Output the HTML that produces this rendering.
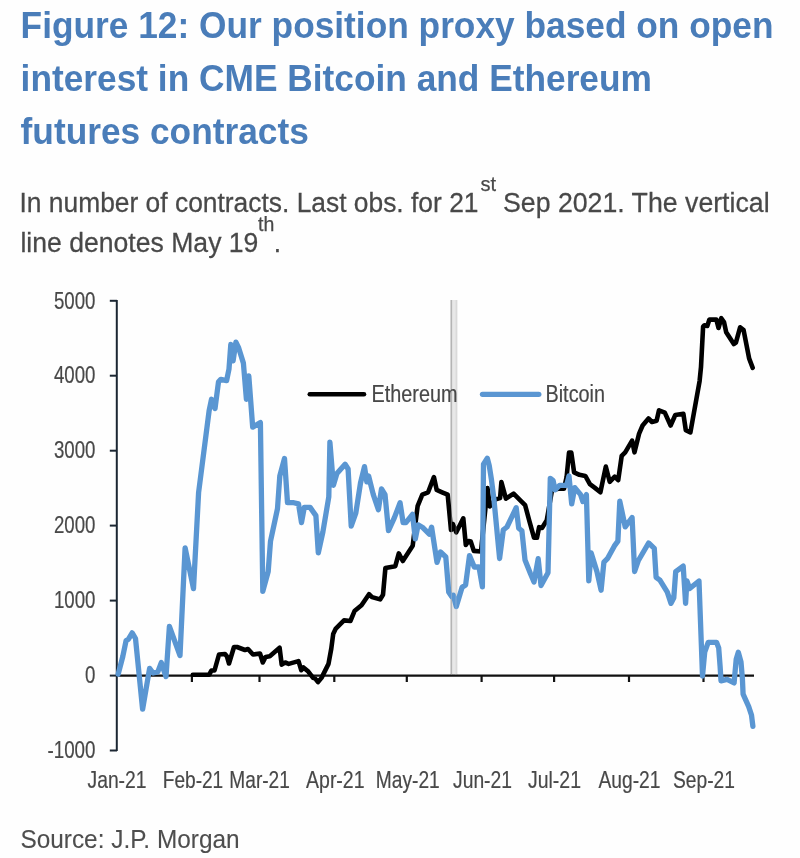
<!DOCTYPE html>
<html><head><meta charset="utf-8"><style>
html,body{margin:0;padding:0;background:#fff;}
body{width:800px;height:858px;overflow:hidden;}
svg{display:block;will-change:transform;}
text{font-family:"Liberation Sans",sans-serif;}
</style></head><body>
<svg width="800" height="858" viewBox="0 0 800 858">
<rect width="800" height="858" fill="#fefefe"/>
<g fill="#4a7db9" font-weight="bold" font-size="35.3">
<text x="20.6" y="38.2" transform="matrix(1,0,0,1.04,0,-1.528)">Figure 12: Our position proxy based on open</text>
<text x="20.6" y="91" transform="matrix(1,0,0,1.04,0,-3.640)">interest in CME Bitcoin and Ethereum</text>
<text x="20.6" y="143.6" transform="matrix(1,0,0,1.04,0,-5.744)">futures contracts</text>
</g>
<g fill="#484848" font-size="26.3" stroke="#484848" stroke-width="0.25">
<text x="19.5" y="211.6" font-size="26.4" transform="matrix(1,0,0,1.03,0,-6.348)">In number of contracts. Last obs. for 21</text>
<text x="480.5" y="191.4" font-size="20">st</text>
<text x="503" y="211.6" font-size="26.7" transform="matrix(1,0,0,1.03,0,-6.348)">Sep 2021. The vertical</text>
<text x="20.4" y="252" font-size="26.6" transform="matrix(1,0,0,1.02,0,-5.040)">line denotes May 19</text>
<text x="258" y="231" font-size="19.5">th</text>
<text x="273.8" y="252" transform="matrix(1,0,0,1.02,0,-5.040)">.</text>
</g>
<!-- vertical bar -->
<rect x="450.6" y="300" width="6.8" height="375.6" fill="#e8e8e8"/>
<rect x="450.6" y="300" width="1.5" height="375.6" fill="#a9a9a9"/>
<rect x="455.6" y="300" width="1.6" height="375.6" fill="#d9d9d9"/>
<!-- axes -->
<g stroke="#1c2733" stroke-width="2" fill="none">
<line x1="116.8" y1="300" x2="116.8" y2="751"/>
<line x1="109.8" y1="300.8" x2="117" y2="300.8"/>
<line x1="109.8" y1="375.7" x2="117" y2="375.7"/>
<line x1="109.8" y1="450.7" x2="117" y2="450.7"/>
<line x1="109.8" y1="525.6" x2="117" y2="525.6"/>
<line x1="109.8" y1="600.6" x2="117" y2="600.6"/>
<line x1="109.8" y1="675.6" x2="117" y2="675.6"/>
<line x1="109.8" y1="750.5" x2="117" y2="750.5"/>
</g>
<g stroke="#111" stroke-width="2.2" fill="none">
<line x1="116" y1="675.6" x2="754" y2="675.6"/>
<line x1="191.9" y1="675" x2="191.9" y2="682"/>
<line x1="259.5" y1="675" x2="259.5" y2="682"/>
<line x1="334.3" y1="675" x2="334.3" y2="682"/>
<line x1="406.8" y1="675" x2="406.8" y2="682"/>
<line x1="481.6" y1="675" x2="481.6" y2="682"/>
<line x1="554.1" y1="675" x2="554.1" y2="682"/>
<line x1="629" y1="675" x2="629" y2="682"/>
<line x1="703.5" y1="675" x2="703.5" y2="682"/>
</g>
<g fill="#484848" font-size="23.5" text-anchor="end" transform="translate(0,1)" stroke="#484848" stroke-width="0.2">
<text x="95.5" y="307.5" textLength="41.5" lengthAdjust="spacingAndGlyphs">5000</text>
<text x="95.5" y="382.4" textLength="41.5" lengthAdjust="spacingAndGlyphs">4000</text>
<text x="95.5" y="457.4" textLength="41.5" lengthAdjust="spacingAndGlyphs">3000</text>
<text x="95.5" y="532.3" textLength="41.5" lengthAdjust="spacingAndGlyphs">2000</text>
<text x="95.5" y="607.3" textLength="41.5" lengthAdjust="spacingAndGlyphs">1000</text>
<text x="95.5" y="682.2" textLength="10.4" lengthAdjust="spacingAndGlyphs">0</text>
<text x="95.5" y="757.2" textLength="48" lengthAdjust="spacingAndGlyphs">-1000</text>
</g>
<g fill="#484848" font-size="23.6" text-anchor="middle" stroke="#484848" stroke-width="0.2">
<text x="117" y="787.7" textLength="59" lengthAdjust="spacingAndGlyphs">Jan-21</text>
<text x="193" y="787.7" textLength="60.5" lengthAdjust="spacingAndGlyphs">Feb-21</text>
<text x="259.6" y="787.7" textLength="60.5" lengthAdjust="spacingAndGlyphs">Mar-21</text>
<text x="335.3" y="787.7" textLength="58.5" lengthAdjust="spacingAndGlyphs">Apr-21</text>
<text x="407.8" y="787.7" textLength="64" lengthAdjust="spacingAndGlyphs">May-21</text>
<text x="482.5" y="787.7" textLength="59" lengthAdjust="spacingAndGlyphs">Jun-21</text>
<text x="554.5" y="787.7" textLength="53" lengthAdjust="spacingAndGlyphs">Jul-21</text>
<text x="629.5" y="787.7" textLength="62" lengthAdjust="spacingAndGlyphs">Aug-21</text>
<text x="704" y="787.7" textLength="62" lengthAdjust="spacingAndGlyphs">Sep-21</text>
</g>
<polyline points="192.8,674.8 209.0,674.8 211.5,670.5 214.5,670.5 219.0,654.5 225.0,654.0 227.0,656.5 229.0,663.5 234.0,647.0 237.0,647.0 245.0,650.0 248.0,649.0 253.0,654.5 260.0,653.5 262.8,662.5 265.6,656.9 269.8,656.2 279.6,647.8 281.7,664.6 285.2,662.5 288.7,663.9 298.5,661.1 301.3,670.2 303.4,667.4 308.3,671.6 313.1,677.9 315.2,678.6 318.0,682.1 321.5,677.9 328.5,663.9 331.3,648.5 333.2,634.0 335.8,628.6 344.0,620.4 350.4,621.0 354.5,611.1 361.5,605.3 369.0,594.2 372.0,597.1 380.1,599.4 383.0,594.8 385.4,568.0 395.3,566.2 398.8,553.4 402.8,561.0 412.7,545.8 414.1,534.2 417.6,506.2 422.3,494.6 428.1,492.3 433.9,477.1 436.7,489.9 442.1,492.3 447.7,494.7 451.0,530.0 452.8,524.0 456.3,532.3 463.3,518.3 465.8,545.0 468.5,541.0 470.8,541.6 473.8,550.9 481.0,551.5 487.5,488.0 489.9,506.4 495.6,499.4 500.1,498.1 501.4,482.0 505.9,498.7 513.6,493.6 521.3,501.3 525.1,505.1 529.6,521.8 534.0,537.7 537.0,537.7 539.1,527.2 542.0,528.0 546.8,520.2 552.0,490.0 558.5,488.8 564.0,488.8 566.6,477.1 569.0,452.6 571.3,452.6 574.1,472.4 579.4,474.8 585.3,475.9 589.9,484.1 594.6,487.6 600.4,492.3 605.8,466.6 609.7,481.8 614.7,476.7 618.2,480.2 621.7,455.8 625.2,452.3 632.1,440.6 634.5,452.3 639.1,433.6 642.6,425.5 648.5,418.5 652.0,422.0 656.6,420.8 659.0,410.3 664.8,412.6 670.6,425.5 675.3,415.0 683.4,413.8 685.8,430.1 690.4,432.4 699.6,381.1 701.0,367.1 703.1,326.6 704.5,325.2 707.3,325.9 709.4,319.6 716.4,319.6 718.5,328.0 721.3,318.2 724.1,322.4 726.2,332.2 733.8,344.1 735.9,342.7 740.1,327.3 743.6,330.1 749.2,358.7 752.7,367.8" fill="none" stroke="#000" stroke-width="4.6" stroke-linejoin="round" stroke-linecap="round"/>
<polyline points="118.2,674.2 122.8,656.5 126.1,640.5 128.3,639.4 132.2,632.9 135.5,638.5 142.6,709.2 149.6,668.4 153.1,673.0 157.8,671.9 161.3,662.6 163.6,669.6 166.0,676.6 169.4,626.4 180.0,655.6 185.1,547.8 193.5,588.6 198.6,492.5 209.1,410.9 211.5,399.3 215.0,408.6 218.5,381.8 220.8,379.4 226.6,380.6 229.0,369.0 230.8,344.5 233.1,360.8 235.9,342.1 238.7,348.0 243.4,363.1 246.4,399.3 248.8,375.9 252.7,427.2 260.4,422.6 262.8,591.3 268.2,571.5 270.5,541.2 277.5,508.6 279.8,476.0 284.5,458.5 287.5,502.7 293.8,502.7 298.5,503.9 301.5,522.6 304.3,507.4 310.1,507.4 315.9,515.6 318.3,552.9 322.9,531.9 328.8,496.9 329.9,442.1 333.4,485.3 336.9,473.6 345.1,464.3 348.1,469.0 351.2,526.0 355.8,513.2 360.5,483.0 364.5,466.6 366.8,481.8 368.6,476.0 373.3,494.6 378.4,509.7 381.5,488.8 385.0,494.6 388.5,530.7 394.3,517.9 400.1,502.8 403.1,522.6 405.9,522.6 412.5,514.4 415.3,538.9 418.1,524.9 422.3,527.2 429.3,534.2 431.6,527.2 437.0,562.4 440.5,551.9 445.8,557.0 448.7,592.0 451.7,596.6 453.4,595.4 456.3,606.5 462.1,587.3 465.6,585.0 469.5,555.6 474.3,567.0 479.0,567.0 482.4,586.9 483.5,464.1 487.3,458.3 489.2,465.4 491.5,480.0 494.0,500.0 499.6,558.5 503.3,529.8 507.0,527.0 516.2,507.7 518.7,528.2 521.9,530.8 525.0,560.0 530.5,573.8 534.0,582.0 538.2,558.7 541.0,585.5 548.0,572.7 550.3,478.3 553.1,480.6 555.0,489.9 559.6,485.3 566.6,485.3 569.0,476.0 571.7,503.9 574.8,487.6 580.6,494.6 582.9,501.6 586.4,494.6 588.8,580.8 591.1,552.9 596.9,571.5 601.1,590.2 603.9,562.2 607.4,558.7 614.4,545.9 617.9,541.2 619.8,501.2 625.2,526.9 632.1,517.5 634.6,571.5 638.4,560.5 648.6,543.0 654.3,548.4 656.1,577.3 659.9,580.1 667.3,592.2 671.0,603.4 673.8,597.8 675.7,571.7 683.2,566.1 685.6,603.4 686.9,581.0 689.7,588.5 699.0,581.0 702.5,676.0 704.7,652.2 708.2,642.4 716.6,642.4 718.7,648.0 720.1,666.2 721.0,680.8 727.1,679.4 734.1,682.9 736.2,659.2 738.3,652.2 741.0,662.0 742.4,678.7 743.1,694.1 748.7,706.7 751.5,715.1 752.9,726.3" fill="none" stroke="#5a96d2" stroke-width="5.3" stroke-linejoin="round" stroke-linecap="round"/>
<rect x="451" y="300" width="1" height="375" fill="#c8c8c8" opacity="0.35"/>
<rect x="455.5" y="300" width="1" height="375" fill="#e0e0e0" opacity="0.3"/>
<line x1="309.8" y1="394.3" x2="364" y2="394.3" stroke="#000" stroke-width="4.6" stroke-linecap="round"/>
<line x1="482.5" y1="394.3" x2="538.8" y2="394.3" stroke="#5a96d2" stroke-width="5.3" stroke-linecap="round"/>
<g fill="#484848" font-size="22.7" stroke="#484848" stroke-width="0.2">
<text x="371.5" y="402.2" font-size="23" textLength="86" lengthAdjust="spacingAndGlyphs">Ethereum</text>
<text x="545.5" y="402.2" font-size="23" textLength="59.5" lengthAdjust="spacingAndGlyphs">Bitcoin</text>
</g>
<text x="20.4" y="848.3" fill="#4e4e4e" font-size="24.4" stroke="#4e4e4e" stroke-width="0.1" transform="matrix(1,0,0,1.035,0,-29.690)">Source: J.P. Morgan</text>
</svg>
</body></html>
